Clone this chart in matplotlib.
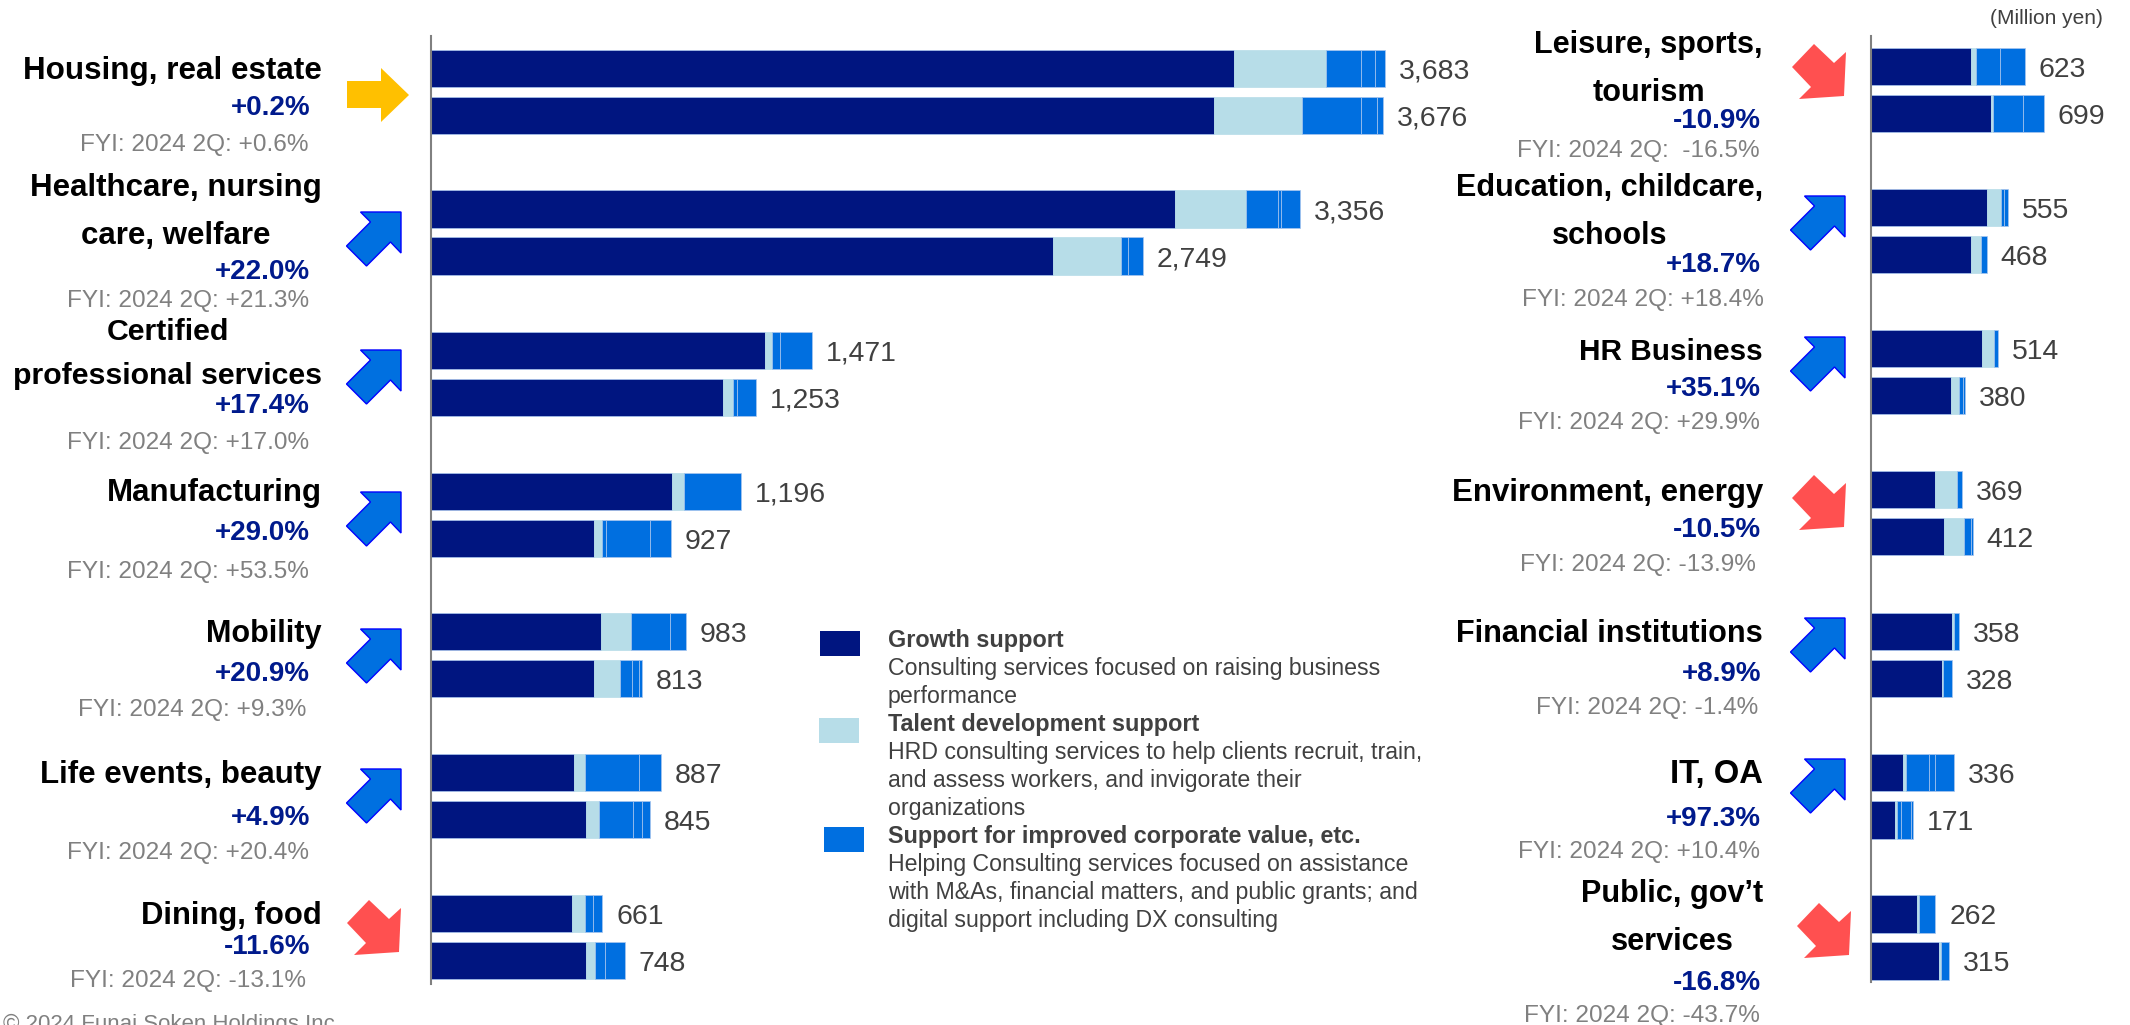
import matplotlib
matplotlib.use("Agg")
import matplotlib.pyplot as plt
from matplotlib.patches import Polygon, Rectangle

plt.rcParams['font.family'] = ['Liberation Sans', 'DejaVu Sans']

# Sales by industry, million yen. Blue lists hold the sub-items of the third segment.
growth_l_cur = [3099, 2874, 1288, 932, 657, 554, 544]
talent_l_cur = [357, 273, 30, 43, 114, 39, 51]
blue_l_cur = [[135, 54, 38], [122, 14, 73], [30, 123], [221], [152, 60], [210, 84], [30, 36]]
growth_l_pri = [3023, 2403, 1129, 628, 628, 597, 597]
talent_l_pri = [341, 263, 37, 33, 100, 50, 37]
blue_l_pri = [[227, 60, 25], [27, 56], [17, 70], [16, 168, 82], [48, 27, 10], [133, 34, 31], [37, 77]]

growth_r_cur = [405, 469, 449, 259, 329, 130, 188]
talent_r_cur = [22, 59, 47, 89, 6, 15, 7]
blue_r_cur = [[95, 101], [11, 16], [18], [21], [23], [92, 24, 75], [67]]
growth_r_pri = [485, 407, 324, 298, 290, 99, 277]
talent_r_pri = [7, 37, 32, 81, 4, 7, 9]
blue_r_pri = [[124, 83], [24], [18, 6], [26, 7], [34], [18, 41, 6], [29]]

names_l = ["Housing, real estate", "Healthcare, nursing\ncare, welfare", "Certified\nprofessional services",
           "Manufacturing", "Mobility", "Life events, beauty", "Dining, food"]
change_l = ["+0.2%", "+22.0%", "+17.4%", "+29.0%", "+20.9%", "+4.9%", "-11.6%"]
fyi_l = ["+0.6%", "+21.3%", "+17.0%", "+53.5%", "+9.3%", "+20.4%", "-13.1%"]

names_r = ["Leisure, sports,\ntourism", "Education, childcare,\nschools", "HR Business", "Environment, energy",
           "Financial institutions", "IT, OA", "Public, gov\u2019t\nservices"]
change_r = ["-10.9%", "+18.7%", "+35.1%", "-10.5%", "+8.9%", "+97.3%", "-16.8%"]
fyi_r = [" -16.5%", "+18.4%", "+29.9%", "-13.9%", "-1.4%", "+10.4%", "-43.7%"]

legend_heads = ["Growth support", "Talent development support", "Support for improved corporate value, etc."]
legend_body = [["Consulting services focused on raising business", "performance"],
               ["HRD consulting services to help clients recruit, train,", "and assess workers, and invigorate their",
                "organizations"],
               ["Helping Consulting services focused on assistance", "with M&As, financial matters, and public grants; and",
                "digital support including DX consulting"]]

NAVY = "#001580"
LIGHT = "#B7DDE8"
BLUE = "#006FE0"
W, H = 2130, 1025
BAR_H = 37.5

# pixel layout
TOPS_L = [50, 190.5, 332, 473, 613, 754, 895]
TOPS_R = [48, 189, 330, 471, 613, 754, 895]
NAME_Y_L = [71, 212, 354, 493, 634, 775, 916]
NAME_FS_L = [22.6, 22.5, 21.8, 22.5, 22.1, 22.5, 22.3]
CHG_Y_L = [108, 272, 406, 533, 674, 818, 947]
FYI_Y_L = [145, 301, 443, 572, 710, 853, 981]
FYI_X_L = [309, 309, 309, 309, 306, 309, 306]
NAME_Y_R = [69, 212, 352, 493, 634, 775, 918]
NAME_FS_R = [22.1, 22.0, 21.4, 22.5, 22.1, 23.6, 22.1]
CHG_Y_R = [121, 265, 389, 530, 674, 819, 983]
FYI_Y_R = [151, 300, 423, 565, 708, 852, 1016]
FYI_X_R = [1760, 1764, 1760, 1756, 1758, 1760, 1760]

fig = plt.figure(figsize=(W / 100, H / 100), dpi=100, facecolor="white")
overlay = fig.add_axes([0, 0, 1, 1], zorder=3)
overlay.set_xlim(0, W)
overlay.set_ylim(H, 0)
overlay.axis("off")
overlay.patch.set_alpha(0)


def bar_axes(x0, width_px, px_per_unit, y_top, y_bot):
    ax = fig.add_axes([x0 / W, 1 - y_bot / H, width_px / W, (y_bot - y_top) / H])
    ax.set_xlim(0, width_px / px_per_unit)
    ax.set_ylim(y_bot, y_top)
    for s in ["top", "right", "bottom"]:
        ax.spines[s].set_visible(False)
    ax.spines["left"].set_color("#808080")
    ax.spines["left"].set_linewidth(1.5)
    ax.set_xticks([])
    ax.set_yticks([])
    ax.patch.set_alpha(0)
    return ax


def stacked(ax, y, growth, talent, blues):
    edge = dict(edgecolor="#A9C6EE", linewidth=0.5)
    ax.barh(y, growth, height=BAR_H, color=NAVY, align="edge", **edge)
    ax.barh(y, talent, left=growth, height=BAR_H, color=LIGHT, align="edge", edgecolor=LIGHT, linewidth=0.5)
    left = growth + talent
    for b in blues:
        ax.barh(y, b, left=left, height=BAR_H, color=BLUE, align="edge", **edge)
        left += b
    ax.annotate(f"{left:,}", (left, y + BAR_H / 2), xytext=(10, 0), textcoords="offset points",
                va="center_baseline", ha="left", fontsize=20.4, color="#404040")


ax_l = bar_axes(431, 1000, 0.2590, 36, 984)
ax_r = bar_axes(1870.5, 255, 0.248, 36, 982)

for i, top in enumerate(TOPS_L):
    stacked(ax_l, top, growth_l_cur[i], talent_l_cur[i], blue_l_cur[i])
    stacked(ax_l, top + 47, growth_l_pri[i], talent_l_pri[i], blue_l_pri[i])
for i, top in enumerate(TOPS_R):
    stacked(ax_r, top, growth_r_cur[i], talent_r_cur[i], blue_r_cur[i])
    stacked(ax_r, top + 47, growth_r_pri[i], talent_r_pri[i], blue_r_pri[i])


def side_labels(names, changes, fyis, name_y, name_fs, chg_y, fyi_y, fyi_x, x_name, x_chg):
    for i in range(len(names)):
        overlay.text(x_name, name_y[i], names[i], ha="right", va="center", ma="center", fontsize=name_fs[i],
                     fontweight="bold", color="black", linespacing=1.75)
        overlay.text(x_chg, chg_y[i], changes[i], ha="right", va="center", fontsize=20,
                     fontweight="bold", color="#001A8C")
        overlay.text(fyi_x[i], fyi_y[i], "FYI: 2024 2Q: " + fyis[i], ha="right", va="center",
                     fontsize=17.6, color="#808080")


side_labels(names_l, change_l, fyi_l, NAME_Y_L, NAME_FS_L, CHG_Y_L, FYI_Y_L, FYI_X_L, 322, 310)
side_labels(names_r, change_r, fyi_r, NAME_Y_R, NAME_FS_R, CHG_Y_R, FYI_Y_R, FYI_X_R, 1763, 1761)

# trend arrows, outlines relative to their top right corner
UP = [(-40.5, 0), (0, 0), (0, 41), (-10.5, 30), (-34.5, 54), (-54.5, 34), (-30.5, 10)]
DOWN = [(-32, -8), (-12, 11), (0, 0), (-2, 44), (-47, 47), (-35, 35), (-54, 15)]
FLAT = [(347, 81), (381, 81), (381, 68), (409, 95), (381, 122), (381, 108), (347, 108)]

overlay.add_patch(Polygon(FLAT, closed=True, facecolor="#FFC000", edgecolor="none"))
for ax_, ay_ in [(401, 212), (401, 350), (401, 492), (401, 629), (401, 769),
                 (1845, 196), (1845, 337), (1845, 618), (1845, 759)]:
    overlay.add_patch(Polygon([(ax_ + a, ay_ + b) for a, b in UP], closed=True,
                              facecolor="#0070E0", edgecolor="#0000FF", linewidth=1.0))
for ax_, ay_ in [(401, 908), (1846, 52), (1846, 483), (1851, 911)]:
    overlay.add_patch(Polygon([(ax_ + a, ay_ + b) for a, b in DOWN], closed=True,
                              facecolor="#FF5050", edgecolor="none"))

# legend block
swatches = [(820, 631, NAVY), (819, 718, LIGHT), (823.5, 827, BLUE)]
for x, y, c in swatches:
    overlay.add_patch(Rectangle((x, y), 40, 25, facecolor=c, edgecolor="none"))

y = 640
for head, body in zip(legend_heads, legend_body):
    overlay.text(888, y, head, ha="left", va="center", fontsize=16.8, fontweight="bold", color="#404040")
    y += 28
    for line in body:
        overlay.text(888, y, line, ha="left", va="center", fontsize=16.7, color="#404040")
        y += 28

overlay.text(2103, 18, "(Million yen)", ha="right", va="center", fontsize=15, color="#404040")
overlay.text(341, 1024, "\u00a9 2024 Funai Soken Holdings Inc.", ha="right", va="center", fontsize=16, color="#808080")

fig.savefig("out.png", dpi=100)
